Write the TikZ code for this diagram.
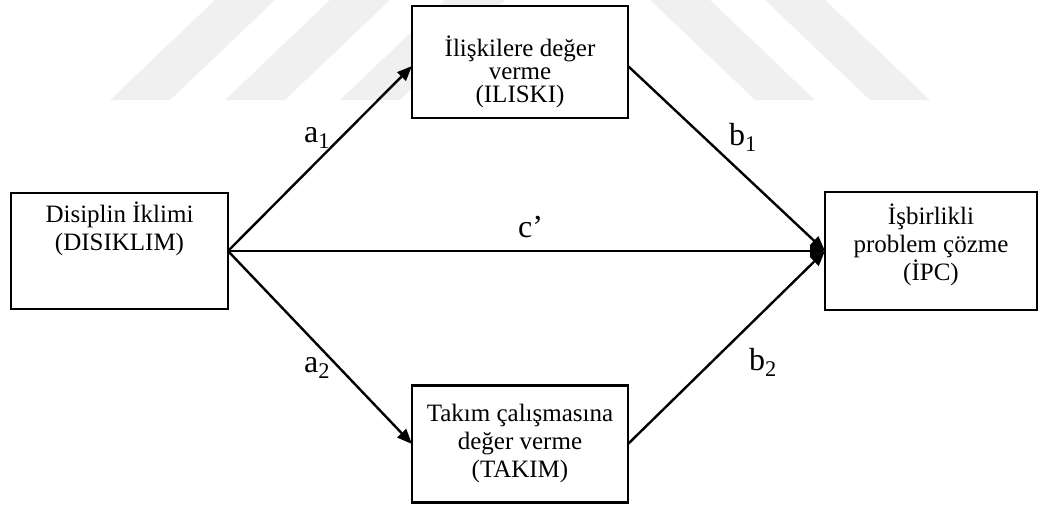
\documentclass[tikz,border=0pt]{standalone}
\usepackage{fontspec}
\setmainfont{Liberation Serif}
\usetikzlibrary{arrows.meta}
\begin{document}
\begin{tikzpicture}[x=1pt,y=-1pt,
  box/.style={draw=black, fill=white, line width=2.6pt, inner sep=0pt, outer sep=0pt},
  boxtext/.style={align=center, inner sep=0pt, anchor=north, font=\fontsize{25}{28}\selectfont},
  lbl/.style={inner sep=0pt, anchor=base west, font=\fontsize{32}{36}\selectfont},
  conn/.style={draw=black, line width=2.4pt, -{Triangle[length=15pt,width=12pt]}},
  wmark/.style={fill=black!6, draw=none}]
\useasboundingbox (0,0) rectangle (1039,504);

% faint background stripes
\fill[wmark] (215,0) -- (275,0) -- (170,100) -- (110,100) -- cycle;
\fill[wmark] (330,0) -- (390,0) -- (285,100) -- (225,100) -- cycle;
\fill[wmark] (445,0) -- (505,0) -- (400,100) -- (340,100) -- cycle;
\fill[wmark] (650,0) -- (710,0) -- (815,100) -- (755,100) -- cycle;
\fill[wmark] (765,0) -- (825,0) -- (930,100) -- (870,100) -- cycle;

% boxes
\node[box, minimum width=217pt, minimum height=116pt] (dis) at (119.5,251) {};
\node[box, minimum width=216pt, minimum height=112pt] (ili) at (520,62) {};
\node[box, minimum width=216pt, minimum height=117pt] (tak) at (520,444) {};
\node[box, minimum width=212pt, minimum height=118pt] (ipc) at (931,251) {};

% box texts
\node[boxtext] (dist) at ([yshift=-9pt]dis.north) {Disiplin İklimi\\(DISIKLIM)};
\node[boxtext, font=\fontsize{25}{23}\selectfont] (ilit) at ([yshift=-30pt]ili.north) {İlişkilere değer\\verme\\(ILISKI)};
\node[boxtext] (takt) at ([yshift=-18pt]tak.north) {Takım çalışmasına\\değer verme\\(TAKIM)};
\node[boxtext] (ipct) at ([yshift=-12pt]ipc.north) {İşbirlikli\\problem çözme\\(İPC)};

% connectors
\draw[conn] (dis.east) -- ([yshift=-4pt]ili.west);
\draw[conn] (dis.east) -- (tak.west);
\draw[conn] (dis.east) -- (ipc.west);
\draw[conn] ([yshift=-4pt]ili.east) -- (ipc.west);
\draw[conn] (tak.east) -- (ipc.west);

% connector labels
\node[lbl] (la1) at (304,142) {a\textsubscript{1}};
\node[lbl] (lb1) at (729,145) {b\textsubscript{1}};
\node[lbl] (lc) at (518,237) {c’};
\node[lbl] (la2) at (304,372) {a\textsubscript{2}};
\node[lbl] (lb2) at (749,370) {b\textsubscript{2}};
\end{tikzpicture}
\end{document}
